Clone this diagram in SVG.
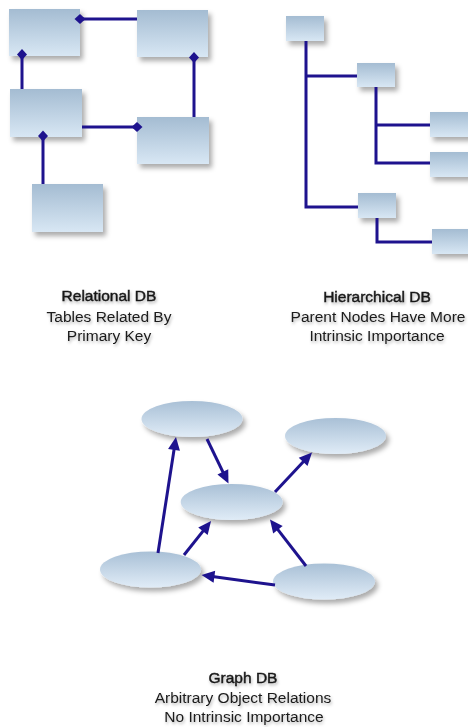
<svg xmlns="http://www.w3.org/2000/svg" width="468" height="727" viewBox="0 0 468 727">
<style>
.box{fill:url(#boxg);filter:url(#sh)}
.ell{fill:url(#ellg);filter:url(#sh)}
.ln{stroke:#1e138e;stroke-width:3;fill:none}
.rel{marker-start:url(#dia)}
.arr{marker-end:url(#arrow)}
text{font-family:"Liberation Sans",Arial,sans-serif;font-size:15.5px;fill:#1a1a1a;text-anchor:middle;filter:url(#tsh)}
.t{stroke:#1a1a1a;stroke-width:0.45px}
</style>
<defs>
<linearGradient id="boxg" x1="0" y1="0" x2="0" y2="1">
<stop offset="0" stop-color="#a4bcd2"/>
<stop offset="1" stop-color="#d8e7f4"/>
</linearGradient>
<linearGradient id="ellg" x1="0" y1="0" x2="0" y2="1">
<stop offset="0" stop-color="#a9c0d6"/>
<stop offset="1" stop-color="#e0ecf7"/>
</linearGradient>
<filter id="sh" x="-20%" y="-30%" width="150%" height="180%">
<feDropShadow dx="3" dy="4" stdDeviation="2.5" flood-color="#000" flood-opacity="0.33"/>
</filter>
<filter id="tsh" x="-10%" y="-30%" width="120%" height="180%">
<feDropShadow dx="1" dy="2" stdDeviation="1.4" flood-color="#000" flood-opacity="0.3"/>
</filter>
<marker id="dia" markerUnits="userSpaceOnUse" markerWidth="11" markerHeight="10" refX="5.5" refY="5" orient="auto" overflow="visible">
<path d="M0,5 L5.5,0 L11,5 L5.5,10 Z" fill="#1e138e"/>
</marker>
<marker id="arrow" markerUnits="userSpaceOnUse" markerWidth="13" markerHeight="12" refX="2" refY="6" orient="auto" overflow="visible">
<path d="M0,0 L13,6 L0,12 Z" fill="#1e138e"/>
</marker>
</defs>

<g id="rel-a"><rect class="box" x="9" y="9" width="71" height="47"/></g>
<g id="rel-b"><rect class="box" x="137" y="10" width="71" height="47"/></g>
<g id="rel-c"><rect class="box" x="10" y="89" width="72" height="48"/></g>
<g id="rel-d"><rect class="box" x="137" y="117" width="72" height="47"/></g>
<g id="rel-e"><rect class="box" x="32" y="184" width="71" height="48"/></g>

<g id="hier-root"><rect class="box" x="286" y="16" width="38" height="25"/></g>
<g id="hier-c1"><rect class="box" x="357" y="63" width="38" height="24"/></g>
<g id="hier-g1"><rect class="box" x="430" y="112" width="40" height="25"/></g>
<g id="hier-g2"><rect class="box" x="430" y="152" width="40" height="25"/></g>
<g id="hier-c2"><rect class="box" x="358" y="193" width="38" height="25"/></g>
<g id="hier-g3"><rect class="box" x="432" y="229" width="40" height="25"/></g>

<g id="graph-1"><ellipse class="ell" cx="192" cy="419" rx="50.5" ry="18"/></g>
<g id="graph-2"><ellipse class="ell" cx="335.5" cy="436" rx="50.5" ry="18"/></g>
<g id="graph-3"><ellipse class="ell" cx="231.7" cy="502" rx="51" ry="18"/></g>
<g id="graph-4"><ellipse class="ell" cx="150.5" cy="569.5" rx="50.5" ry="18"/></g>
<g id="graph-5"><ellipse class="ell" cx="324" cy="581.5" rx="51" ry="18"/></g>

<g id="connectors">
<line class="ln rel" x1="80" y1="19" x2="137" y2="19"/>
<line class="ln rel" x1="22" y1="54.5" x2="22" y2="89"/>
<line class="ln rel" x1="194" y1="57.5" x2="194" y2="117"/>
<line class="ln rel" x1="137" y1="127" x2="82" y2="127"/>
<line class="ln rel" x1="43" y1="136" x2="43" y2="184"/>

<path class="ln" d="M306,41 V207 H358 M306,76 H357"/>
<path class="ln" d="M376,87 V163 H430 M376,125 H430"/>
<path class="ln" d="M377,218 V242 H432"/>

<line class="ln arr" x1="158" y1="553" x2="174.3" y2="447.9"/>
<line class="ln arr" x1="207" y1="439" x2="223.7" y2="473.6"/>
<line class="ln arr" x1="275" y1="492" x2="304.5" y2="460.5"/>
<line class="ln arr" x1="184" y1="555" x2="204.2" y2="529.6"/>
<line class="ln arr" x1="306" y1="566" x2="276.7" y2="528.2"/>
<line class="ln arr" x1="275" y1="585" x2="212.4" y2="576.5"/>
</g>

<g id="label-relational">
<text class="t" x="109" y="301">Relational DB</text>
<text x="109" y="322">Tables Related By</text>
<text x="109" y="341">Primary Key</text>
</g>
<g id="label-hierarchical">
<text class="t" x="377" y="302">Hierarchical DB</text>
<text x="378" y="322">Parent Nodes Have More</text>
<text x="377" y="341">Intrinsic Importance</text>
</g>
<g id="label-graph">
<text class="t" x="243" y="683">Graph DB</text>
<text x="243" y="703">Arbitrary Object Relations</text>
<text x="244" y="722">No Intrinsic Importance</text>
</g>
</svg>
